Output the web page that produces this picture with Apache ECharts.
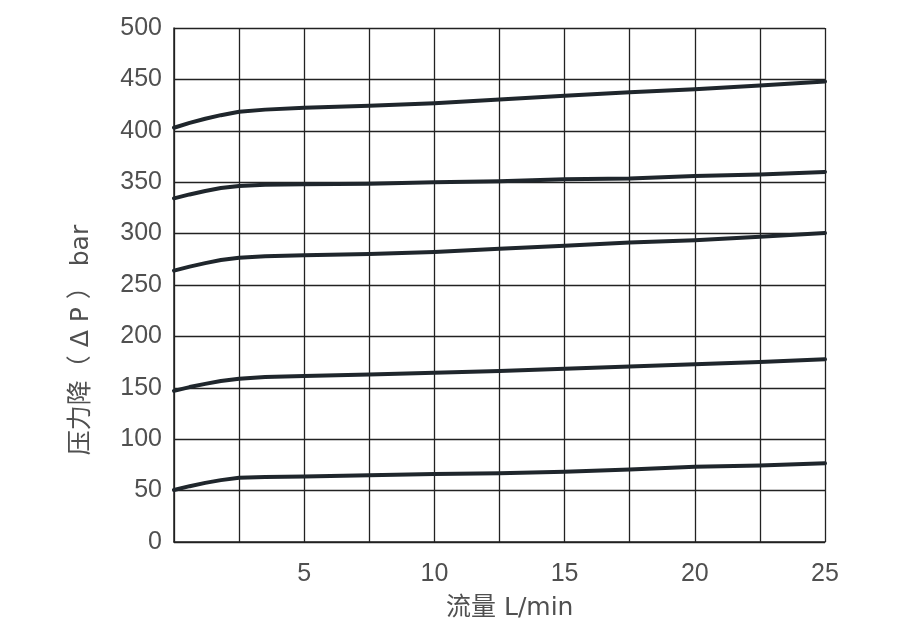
<!DOCTYPE html>
<html><head><meta charset="utf-8">
<script src="https://cdn.jsdelivr.net/npm/echarts@6/dist/echarts.min.js"></script>
<style>html,body{margin:0;padding:0;background:#fff}#c{width:922px;height:631px}</style>
</head><body><div id="c"></div>
<script>
const flow = [0, 0.6, 1.2, 1.8, 2.5, 3.5, 5, 7.5, 10, 12.5, 15, 17.5, 20, 22.5, 25];
const curve1 = [403, 407.7, 411.7, 415.2, 418.5, 420.6, 422.5, 424.4, 426.8, 430.4, 434, 437.4, 440.3, 444, 448];
const curve2 = [334.3, 338.1, 341.4, 344.3, 346.4, 347.5, 348, 348.4, 349.9, 350.9, 352.8, 353.6, 356, 357.5, 360];
const curve3 = [264, 267.9, 271.3, 274.3, 276.6, 278, 279, 280.2, 282.1, 285.3, 288.3, 291.3, 293.5, 297, 300.5];
const curve4 = [147, 150.7, 153.8, 156.6, 158.8, 160.4, 161.5, 163, 164.7, 166.3, 168.6, 170.6, 173, 175, 177.7];
const curve5 = [50.6, 54.3, 57.5, 60.2, 62.4, 63.2, 63.6, 64.9, 66.1, 66.8, 68.4, 70.6, 73.3, 74.5, 76.5];
const curves = [curve1, curve2, curve3, curve4, curve5];
const xName = '流量 L/min';
const yName = '压力降（ Δ P ） bar';

const font = 'Liberation Sans';
const nameFont = 'DejaVu Sans, Noto Sans CJK SC';
const textColor = '#505050';
const chart = echarts.init(document.getElementById('c'), null, {renderer: 'canvas'});
chart.setOption({
  animation: false,
  backgroundColor: '#fff',
  grid: {left: 174, right: 97, top: 28, bottom: 89},
  xAxis: {
    type: 'value', min: 0, max: 25, interval: 2.5,
    axisLine: {show: true, lineStyle: {color: '#222', width: 1.5}},
    axisTick: {show: false},
    axisLabel: {
      fontFamily: font, fontSize: 25, color: textColor, margin: 20,
      formatter: v => (v % 5 === 0 && v !== 0) ? String(v) : ''
    },
    splitLine: {show: true, lineStyle: {color: '#222', width: 1.3}}
  },
  yAxis: {
    type: 'value', min: 0, max: 500, interval: 50,
    axisLine: {show: true, lineStyle: {color: '#222', width: 1.5}},
    axisTick: {show: false},
    axisLabel: {fontFamily: font, fontSize: 25, color: textColor, margin: 12},
    splitLine: {show: true, lineStyle: {color: '#222', width: 1.3}}
  },
  graphic: [
    {type: 'text', left: 446, top: 596,
     style: {text: xName, font: '25px ' + nameFont, fill: textColor}},
    {type: 'text', x: 81, y: 340, rotation: Math.PI / 2,
     style: {text: yName, font: '25px ' + nameFont, fill: textColor, align: 'center', verticalAlign: 'middle'}}
  ],
  series: curves.map(c => ({
    type: 'line',
    data: flow.map((x, i) => [x, c[i]]),
    smooth: false,
    showSymbol: false, symbol: 'none',
    lineStyle: {color: '#1f262c', width: 4, join: 'round', cap: 'round'},
    z: 5
  }))
});
</script></body></html>
